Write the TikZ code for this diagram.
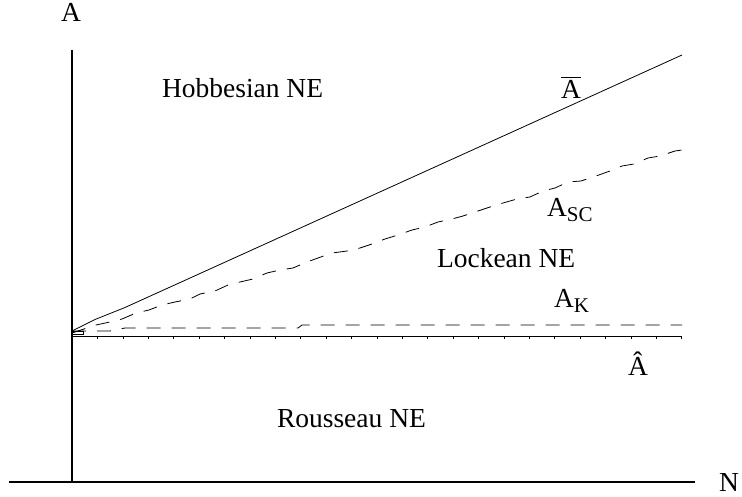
\documentclass[tikz,border=0pt]{standalone}
\usepackage{fontspec}
\setmainfont{Liberation Serif}
\usetikzlibrary{calc}
\begin{document}
\begin{tikzpicture}[x=1pt,y=-1pt,
  lbl/.style={inner sep=0pt, outer sep=0pt, anchor=base west, font=\fontsize{27.5}{30}\selectfont},
  axisline/.style={line width=1.1pt},
  curveline/.style={line width=0.8pt},
  dashline/.style={line width=0.8pt, dash pattern=on 14pt off 11pt}]
\useasboundingbox (0,0) rectangle (742,497);
% axes
\coordinate (ytop) at (72,50);
\coordinate (orig) at (72,482);
\coordinate (xleft) at (9,482);
\coordinate (xright) at (695,482);
\draw[axisline] (ytop) -- (orig);
\draw[axisline] (xleft) -- (xright);
% A-hat line with ticks
\coordinate (h0) at (72,336);
\coordinate (h1) at (682,336);
\draw[curveline] (h0) -- (h1);
\foreach \i in {1,...,24} \draw[line width=0.5pt] ($(h0)+(\i*25.4,0)$) -- ++(0,2.5);
% A-bar line
\coordinate (b0) at (72,331);
\coordinate (b1) at (682,55);
\draw[curveline] (b0) -- (95,319.5) -- (125,307.5) -- (b1);
% A_SC dashed
\coordinate (s0) at (72,333);
\coordinate (s1) at (682,150);
\draw[dashline] (s0) -- (96,325) -- (110,322) -- (122,319) -- (136,313) -- (149,310) -- (162,305) -- (175,302) -- (190,299) -- (200,294) -- (215,291) -- (228,285) -- (240,282) -- (253,279) -- (267,273) -- (280,270) -- (293,268) -- (307,262) -- (318,258) -- (332,253) -- (347,251) -- (360,248) -- (372,244) -- (385,239) -- (398,235) -- (412,230) -- (425,227) -- (438,222) -- (452,219) -- (463,216) -- (478,211) -- (490,207) -- (503,203) -- (517,199) -- (530,197) -- (543,191) -- (555,188) -- (568,182) -- (581,181) -- (596,176) -- (610,171) -- (622,166) -- (634,164) -- (648,158) -- (660,156) -- (675,151) -- (s1);
% A_K dashed
\coordinate (k0) at (72,331);
\coordinate (k1) at (682,325);
\draw[dashline] (k0) -- (110,331) -- (125,328) -- (298,328) -- (302,325) -- (k1);
% small box at origin
\draw[line width=0.5pt] (72,331) rectangle (83,334);
% labels
\node[lbl, anchor=base] (labA) at (71,22) {A};
\node[lbl, anchor=base] (labN) at (729,491) {N};
\node[lbl] (hobb) at (162,98) {Hobbesian NE};
\node[lbl] (lock) at (437,268) {Lockean NE};
\node[lbl] (rous) at (277,427) {Rousseau NE};
\node[lbl, anchor=base] (abar) at (571,99) {A};
\draw[line width=1.1pt] ([yshift=3pt]abar.north west) -- ([yshift=3pt]abar.north east);
\node[lbl, anchor=base] (ahat) at (638,375) {Â};
\node[lbl] (asc) at (547,217) {A\raisebox{-5pt}{\fontsize{21}{22}\selectfont SC}};
\node[lbl] (ak) at (554,308) {A\raisebox{-5pt}{\fontsize{21}{22}\selectfont K}};
\end{tikzpicture}
\end{document}
